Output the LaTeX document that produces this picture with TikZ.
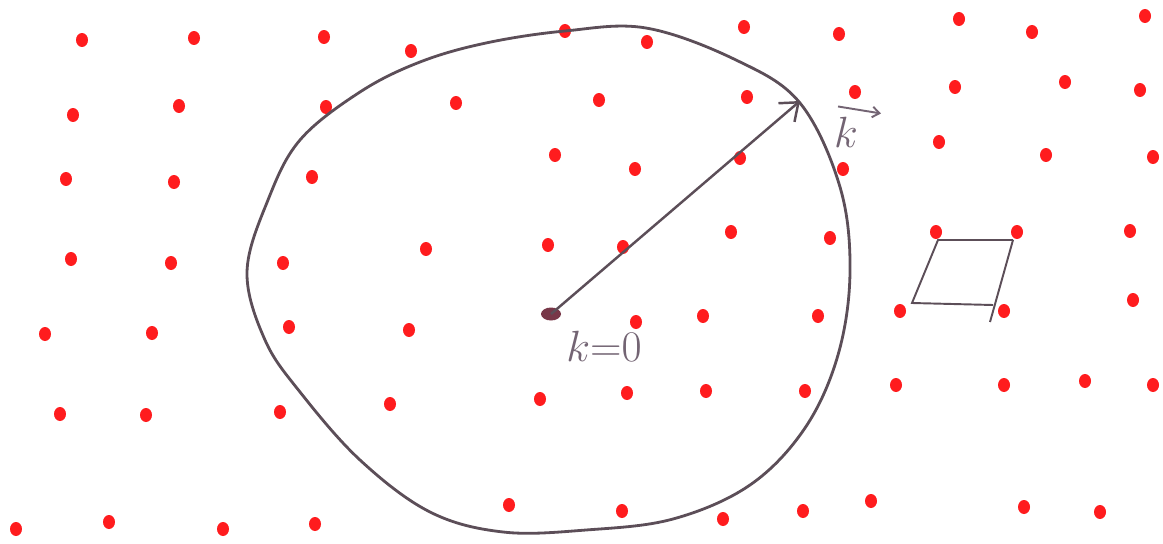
\documentclass[tikz,border=0pt]{standalone}
\usepackage{amsmath,amssymb}
\usepackage{tikz}
\usetikzlibrary{arrows.meta}
\definecolor{pen}{RGB}{92,78,88}
\definecolor{pengray}{RGB}{115,100,115}
\definecolor{dotred}{RGB}{255,28,30}
\definecolor{smudge}{RGB}{120,55,72}
\tikzset{
  site/.style={fill=dotred},
  zone/.style={draw=pen,line width=1.6pt},
  vecarr/.style={draw=pen,line width=1.4pt,-{Straight Barb[length=9pt,width=14pt,line width=1.4pt]}},
  karr/.style={draw=pengray,line width=1.1pt,-{Straight Barb[length=4pt,width=6pt,line width=1.1pt]}},
  cell/.style={draw=pen,line width=1.1pt},
  klab/.style={text=pengray,inner sep=0pt},
  every picture/.style={x=0.02cm,y=-0.02cm}
}

\begin{document}
\begin{tikzpicture}
  \useasboundingbox (0,0) rectangle (1163,544);
  % reciprocal lattice sites
  \foreach \x/\y in {82/40,194/38,324/37,411/51,565/31,647/42,744/27,839/34,959/19,1032/32,1145/16,
      73/115,179/106,326/107,456/103,599/100,747/97,855/92,955/87,1065/82,1140/90,
      66/179,174/182,312/177,555/155,635/169,740/158,843/169,939/142,1046/155,1153/157,
      71/259,171/263,283/263,426/249,548/245,623/247,731/232,830/238,936/232,1017/232,1130/231,
      45/334,152/333,289/327,409/330,636/322,703/316,818/316,900/311,1004/311,1133/300,
      60/414,146/415,280/412,390/404,540/399,627/393,706/391,805/391,896/385,1004/385,1085/381,1153/385,
      16/529,109/522,223/529,315/524,509/505,622/511,723/519,803/511,871/501,1024/507,1100/512}
    \fill[site] (\x,\y) ellipse [x radius=0.12cm,y radius=0.14cm];
  % sphere
  \draw[zone] plot[smooth cycle,tension=0.6] coordinates {(486,43) (565,31) (646,28) (736,60)
    (800,103) (840,187) (850,272) (838,355) (805,428) (750,485) (673,519) (586,530) (503,532)
    (430,512) (360,460) (300,392) (265,340) (247,272) (268,200) (300,140) (360,92) (420,62)};
  \coordinate (origin) at (551,314);
  \coordinate (tip) at (800,101);
  \fill[smudge] (origin) ellipse [x radius=0.2cm,y radius=0.13cm];
  \draw[vecarr] (origin) -- (tip);
  \node[klab,font=\fontsize{29}{29}\selectfont] (kvec) at (846,132) {$k$};
  \draw[karr] ([shift={(-8,-10)}]kvec.north) -- ([shift={(35,-3)}]kvec.north);
  \node[klab,font=\fontsize{23}{23}\selectfont] (kzero) at (604,346) {$k{=}0$};
  % unit cell
  \coordinate (c1) at (938,240); \coordinate (c2) at (1013,240);
  \coordinate (c3) at (912,303); \coordinate (c4) at (993,305);
  \coordinate (c5) at (990,322);
  \draw[cell] (c2) -- (c1) -- (c3) -- (c4);
  \draw[cell] (c2) -- (c5);
\end{tikzpicture}
\end{document}
